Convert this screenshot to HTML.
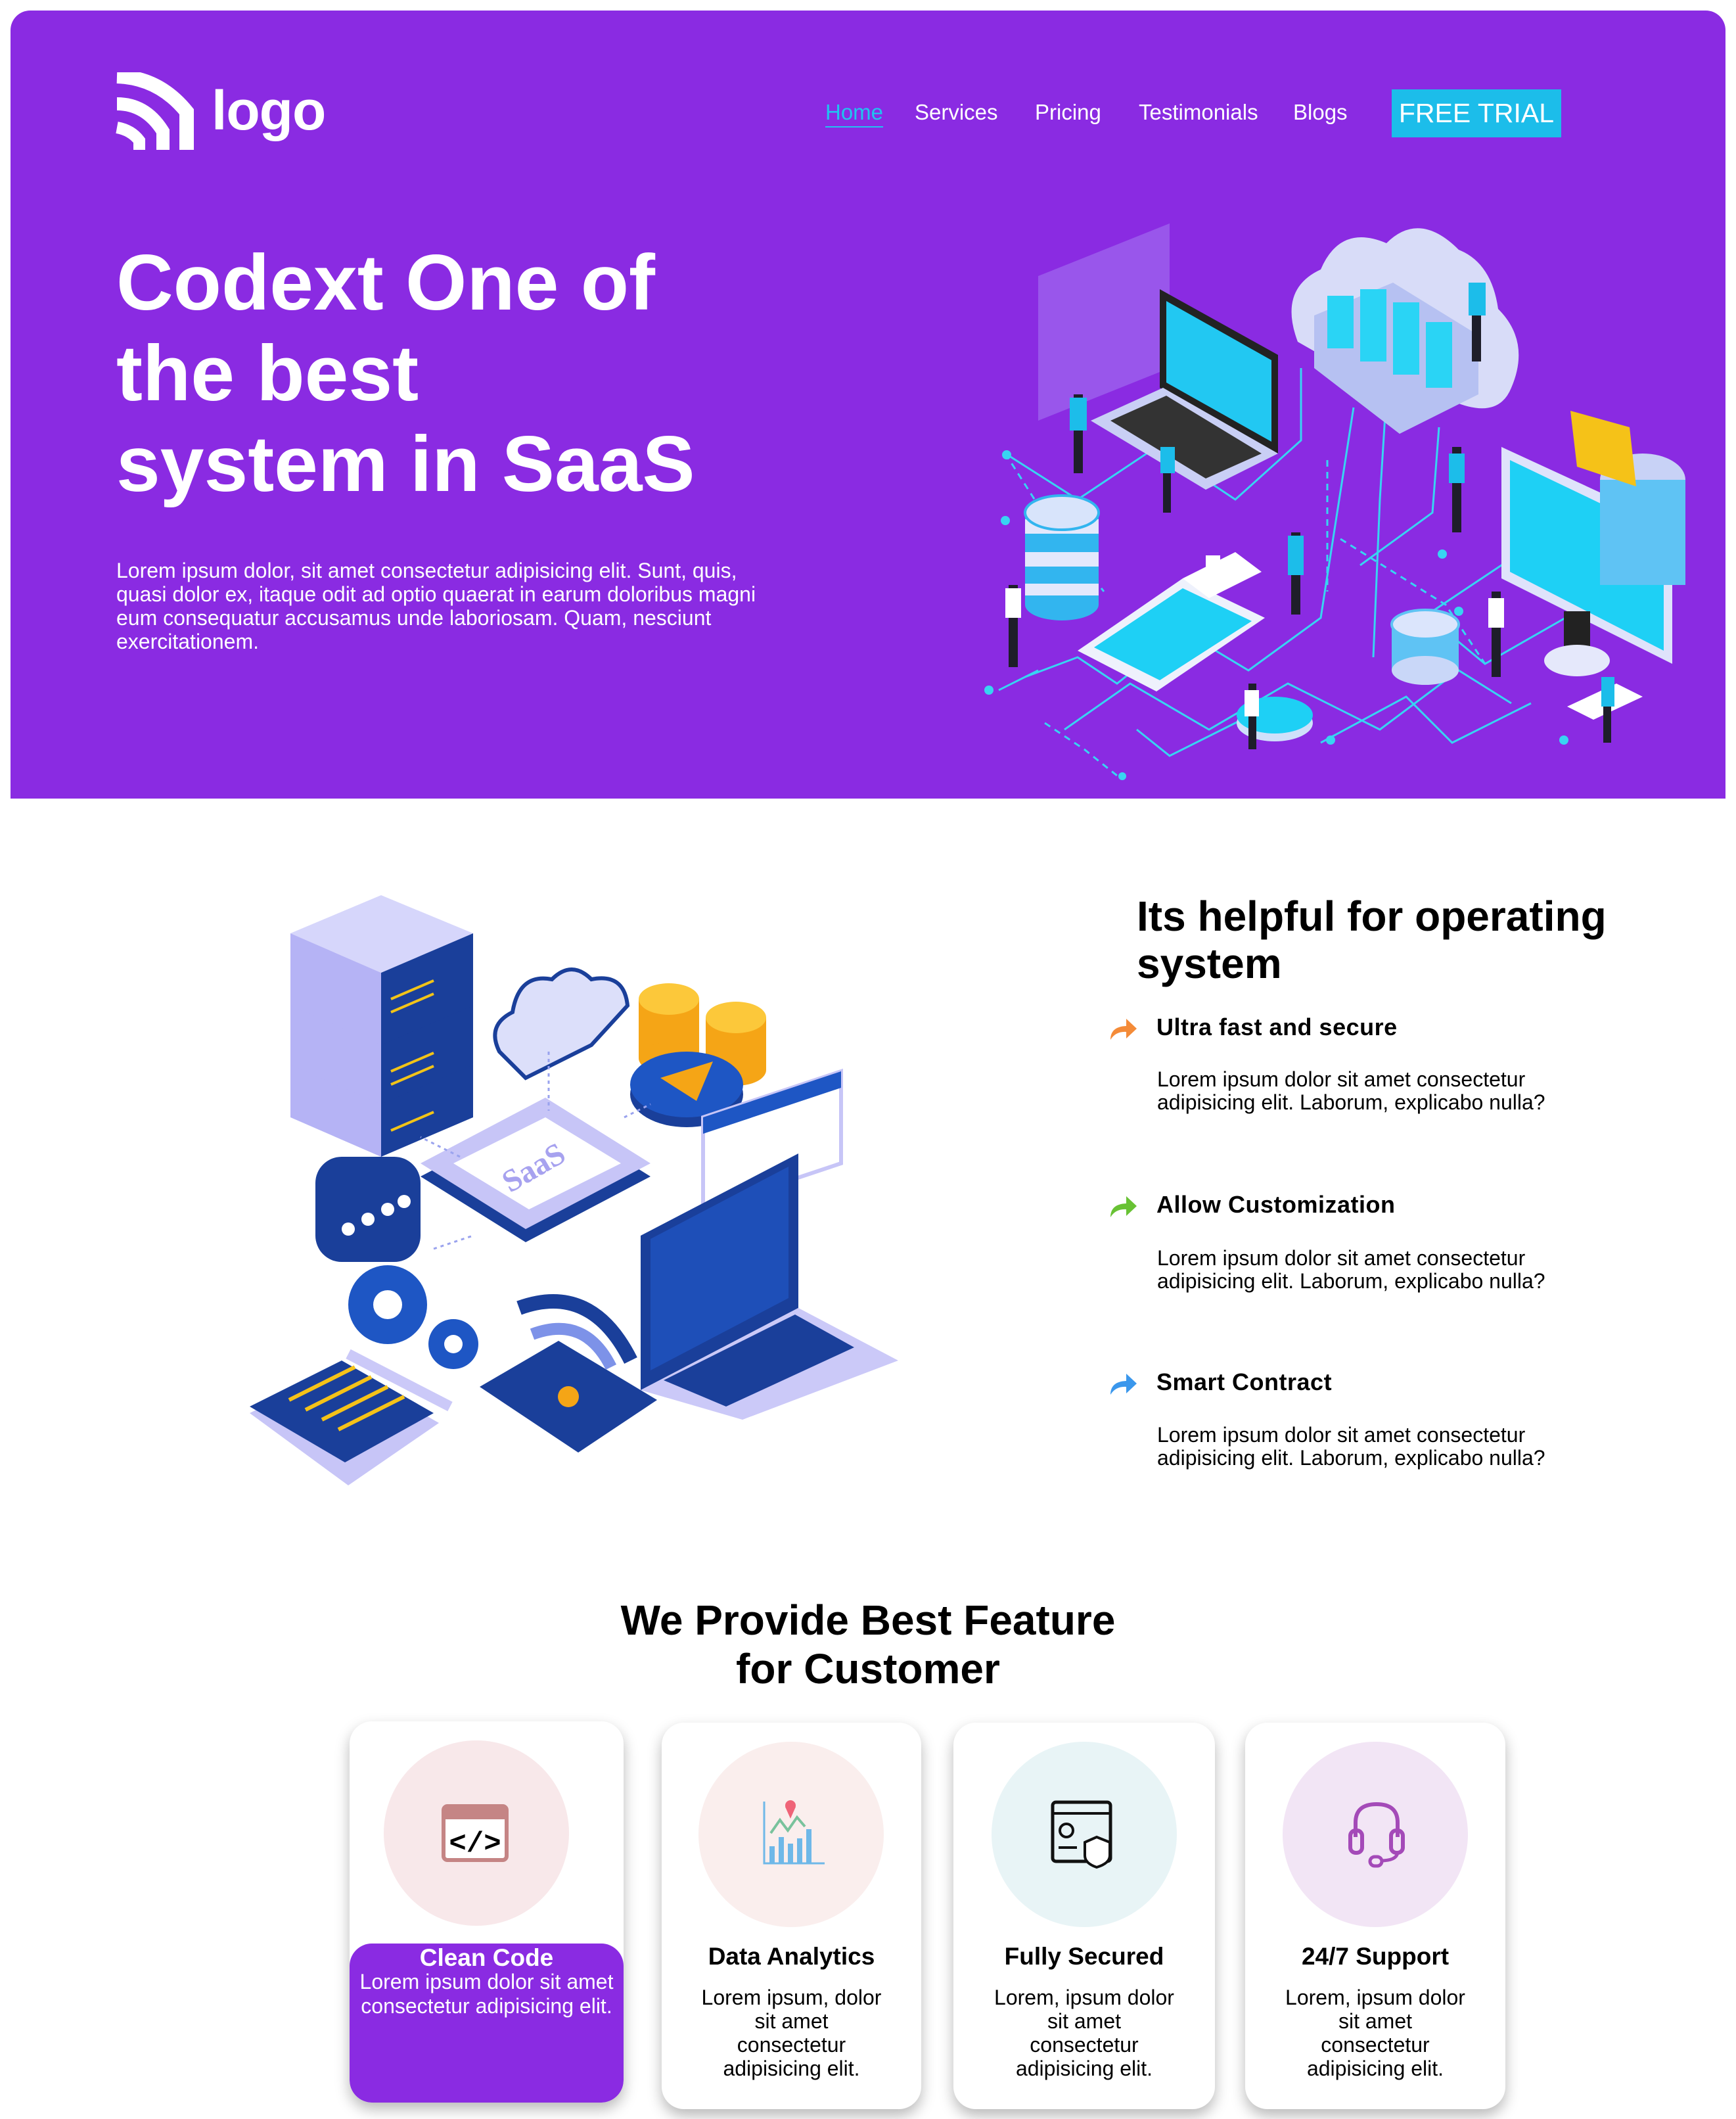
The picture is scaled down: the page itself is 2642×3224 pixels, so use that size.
<!DOCTYPE html>
<html><head><meta charset="utf-8">
<style>
*{margin:0;padding:0;box-sizing:border-box}
html,body{width:2642px;height:3224px;overflow:hidden;background:#fff;font-family:"Liberation Sans",Arial,sans-serif;position:relative}
.abs{position:absolute}
#hero{left:16px;top:16px;width:2610px;height:1199px;background:#8a2be2;border-radius:30px 30px 0 0}
.nav{top:150px;font-size:33px;color:#fff;line-height:42px}
.h1{left:177px;top:361px;font-size:120px;line-height:138px;font-weight:bold;color:#fff;white-space:nowrap}
.hp{left:177px;top:850px;width:990px;font-size:32px;line-height:36px;color:#fff}
.h2{left:1730px;top:1358px;font-size:64px;line-height:72px;font-weight:bold;color:#000}
.ft{left:1760px;font-size:36px;font-weight:bold;color:#000;line-height:40px;letter-spacing:0.5px}
.fd{left:1761px;font-size:32px;line-height:35px;color:#000;width:640px}
.h3{left:0;width:2642px;top:2428px;text-align:center;font-size:64px;line-height:74px;font-weight:bold;color:#000}
.card{background:#fff;border-radius:34px;box-shadow:0 10px 22px rgba(0,0,0,0.28);overflow:hidden}
.circ{position:absolute;width:282px;height:282px;border-radius:50%;top:29px}
.ct{position:absolute;left:0;width:100%;text-align:center;font-size:37px;font-weight:bold;top:2960px}
.cd{position:absolute;left:50%;transform:translateX(-50%);width:285px;text-align:center;font-size:32px;line-height:36px;color:#000}
</style></head><body>
<div id="hero" class="abs"></div>

<svg class="abs" style="left:172px;top:110px" width="130" height="125" viewBox="0 0 130 125">
<path d="M6 6 Q70 8 112 60 L112 118" fill="none" stroke="#fff" stroke-width="22"/>
<path d="M6 48 Q50 48 76 90 L76 118" fill="none" stroke="#fff" stroke-width="20"/>
<path d="M6 84 Q28 88 40 104 L40 118" fill="none" stroke="#fff" stroke-width="18"/>
</svg>
<div class="abs" style="left:322px;top:118px;font-size:84px;font-weight:bold;color:#fff;line-height:100px;letter-spacing:-1px">logo</div>

<div class="abs nav" style="left:1256px;color:#1fc4f0;border-bottom:2px solid #1fc4f0">Home</div>
<div class="abs nav" style="left:1392px">Services</div>
<div class="abs nav" style="left:1575px">Pricing</div>
<div class="abs nav" style="left:1733px">Testimonials</div>
<div class="abs nav" style="left:1968px">Blogs</div>
<div class="abs" style="left:2118px;top:136px;width:258px;height:73px;background:#1cbdea;color:#fff;font-size:41px;line-height:73px;text-align:center">FREE TRIAL</div>

<div class="abs h1">Codext One of<br>the best<br>system in SaaS</div>
<div class="abs hp">Lorem ipsum dolor, sit amet consectetur adipisicing elit. Sunt, quis, quasi dolor ex, itaque odit ad optio quaerat in earum doloribus magni eum consequatur accusamus unde laboriosam. Quam, nesciunt exercitationem.</div>

<svg class="abs" style="left:0;top:0" width="2642" height="1240" viewBox="0 0 2642 1240">
<g fill="none" stroke="#38d4f2" stroke-width="3">
<path d="M1530 690 L1640 760 L1760 680 L1880 760 L1980 670 L1980 560"/>
<path d="M1560 1030 L1640 1000 L1700 1040 L1800 960 L1900 1020 L2010 940 L2060 620"/>
<path d="M1620 1110 L1720 1040 L1840 1110 L1960 1040 L2100 1110 L2220 1020 L2300 1070"/>
<path d="M1730 1110 L1780 1150 L1900 1090"/>
<path d="M2010 1130 L2140 1060 L2210 1130 L2330 1070"/>
<path d="M2090 1000 L2100 760 L2110 600"/>
<path d="M2070 860 L2180 780 L2190 650"/>
<path d="M2180 930 L2300 850"/>
<path d="M2200 960 L2260 1010 L2400 930"/>
<path d="M1520 1050 L1580 1020"/>
</g>
<g fill="none" stroke="#38d4f2" stroke-width="3" stroke-dasharray="10 8">
<path d="M1530 690 L1600 800 L1680 900"/>
<path d="M1590 1100 L1650 1140 L1700 1180"/>
<path d="M2040 820 L2200 920 L2260 1010"/>
<path d="M2020 700 L2020 900"/>
</g>
<g fill="#38d4f2"><circle cx="1532" cy="692" r="7"/><circle cx="1530" cy="792" r="7"/><circle cx="1505" cy="1050" r="7"/><circle cx="2025" cy="1126" r="7"/><circle cx="2195" cy="843" r="7"/><circle cx="2220" cy="930" r="7"/><circle cx="2380" cy="1126" r="7"/><circle cx="1708" cy="1181" r="6"/></g>
<polygon points="1580,420 1780,340 1780,560 1580,640" fill="#a06af0" opacity="0.7"/>
<path d="M1975 520 Q1945 440 2010 410 Q2040 340 2110 370 Q2160 320 2220 380 Q2270 400 2280 470 Q2330 520 2300 590 Q2280 640 2210 610 L2010 540 Z" fill="#d8dcf8"/>
<path d="M2000 480 L2120 430 L2250 510 L2250 600 L2130 660 L2000 560 Z" fill="#b6c1f2"/>
<g fill="#2ad4f5"><rect x="2020" y="450" width="40" height="80"/><rect x="2070" y="440" width="40" height="110"/><rect x="2120" y="460" width="40" height="110"/><rect x="2170" y="490" width="40" height="100"/></g>
<polygon points="1765,440 1945,540 1945,690 1765,590" fill="#222"/>
<polygon points="1775,458 1935,548 1935,672 1775,582" fill="#22c8f2"/>
<polygon points="1660,640 1770,590 1945,690 1835,745" fill="#c9cff5"/>
<polygon points="1690,640 1775,602 1920,690 1835,728" fill="#333"/>
<polygon points="2285,680 2545,800 2545,1010 2285,880" fill="#dfe3fb"/>
<polygon points="2298,700 2532,812 2532,990 2298,870" fill="#1ed0f5"/>
<rect x="2380" y="930" width="40" height="70" fill="#222"/>
<ellipse cx="2400" cy="1005" rx="50" ry="24" fill="#e5e8fb"/>
<ellipse cx="2500" cy="730" rx="65" ry="40" fill="#c8d2f6"/>
<rect x="2435" y="730" width="130" height="160" fill="#5fc3f4"/>
<polygon points="2390,625 2480,650 2490,740 2400,710" fill="#f5c218"/>
<rect x="1560" y="780" width="112" height="140" fill="#32b5ef"/>
<ellipse cx="1616" cy="920" rx="56" ry="24" fill="#32b5ef"/>
<g fill="#e3e8fc"><rect x="1560" y="790" width="112" height="22"/><rect x="1560" y="840" width="112" height="22"/><rect x="1560" y="888" width="112" height="18"/></g>
<ellipse cx="1616" cy="780" rx="56" ry="26" fill="#d8e4fb" stroke="#32b5ef" stroke-width="4"/>
<polygon points="1640,990 1800,880 1925,940 1760,1052" fill="#eef1fc"/>
<polygon points="1665,985 1800,895 1905,945 1765,1035" fill="#1ed0f5"/>
<polygon points="1800,880 1880,840 1920,870 1840,910" fill="#fff"/>
<rect x="2118" y="950" width="102" height="70" fill="#5fc3f4"/>
<ellipse cx="2169" cy="1020" rx="51" ry="22" fill="#c9d7f8"/>
<ellipse cx="2169" cy="950" rx="51" ry="22" fill="#dbe5fc" stroke="#5fc3f4" stroke-width="4"/>
<ellipse cx="1940" cy="1100" rx="58" ry="28" fill="#cfe0fa"/>
<ellipse cx="1940" cy="1088" rx="58" ry="28" fill="#1ed0f5"/>
<polygon points="2385,1075 2460,1040 2500,1060 2425,1095" fill="#fff"/>
<g fill="#1e1e2a">
<rect x="1634" y="600" width="14" height="120"/><rect x="1535" y="890" width="14" height="125"/><rect x="1965" y="810" width="14" height="125"/><rect x="2210" y="680" width="14" height="130"/><rect x="2270" y="900" width="14" height="130"/><rect x="2240" y="430" width="14" height="120"/><rect x="1770" y="720" width="12" height="60"/><rect x="1900" y="1040" width="12" height="100"/><rect x="2440" y="1030" width="12" height="100"/>
</g>
<g fill="#1cbdea">
<rect x="1628" y="605" width="26" height="50"/><rect x="1960" y="815" width="24" height="60"/><rect x="2205" y="690" width="24" height="45"/><rect x="2235" y="430" width="26" height="50"/><rect x="1766" y="680" width="22" height="40"/><rect x="2437" y="1030" width="20" height="45"/>
</g>
<g fill="#fff"><rect x="1530" y="895" width="24" height="45"/><rect x="2265" y="910" width="24" height="45"/><rect x="1894" y="1050" width="22" height="40"/><rect x="1835" y="845" width="22" height="40"/></g>
</svg>

<svg class="abs" style="left:0;top:1300px" width="1500" height="1000" viewBox="0 1300 1500 1000">
<g>
<polygon points="442,1420 580,1362 720,1420 580,1480" fill="#d6d6fb"/>
<polygon points="442,1420 580,1480 580,1600 442,1540" fill="#b5b3f5"/>
<polygon points="580,1480 720,1420 720,1540 580,1600" fill="#1a3f9a"/>
<polygon points="442,1530 580,1590 580,1690 442,1630" fill="#b5b3f5"/>
<polygon points="580,1590 720,1530 720,1630 580,1690" fill="#1a3f9a"/>
<polygon points="442,1620 580,1680 580,1760 442,1700" fill="#b5b3f5"/>
<polygon points="580,1680 720,1620 720,1700 580,1760" fill="#1a3f9a"/>
<g stroke="#f2c418" stroke-width="4"><path d="M595 1520 L660 1492 M595 1540 L660 1512 M595 1630 L660 1602 M595 1650 L660 1622 M595 1720 L660 1692"/></g>
</g>
<path d="M760 1600 Q740 1560 780 1540 Q790 1480 840 1490 Q870 1460 900 1490 Q950 1480 955 1530 L900 1590 L800 1640 Z" fill="#dcdffa" stroke="#1a3f9a" stroke-width="6"/>
<rect x="972" y="1520" width="92" height="90" fill="#f5a516"/><ellipse cx="1018" cy="1520" rx="46" ry="24" fill="#fcc83a"/><ellipse cx="1018" cy="1610" rx="46" ry="24" fill="#f5a516"/>
<rect x="1074" y="1548" width="92" height="80" fill="#f5a516"/><ellipse cx="1120" cy="1548" rx="46" ry="24" fill="#fcc83a"/><ellipse cx="1120" cy="1628" rx="46" ry="24" fill="#f5a516"/>
<ellipse cx="1045" cy="1665" rx="86" ry="50" fill="#1a3f9a"/><ellipse cx="1045" cy="1650" rx="86" ry="50" fill="#1e56c4"/>
<polygon points="1005,1640 1085,1615 1060,1675" fill="#f5a516"/>
<polygon points="640,1790 830,1690 990,1790 800,1890" fill="#1a3f9a"/>
<polygon points="640,1770 830,1670 990,1770 800,1870" fill="#c7c5f7"/>
<polygon points="690,1770 830,1700 945,1770 805,1840" fill="#fff"/>
<text x="820" y="1790" font-family="Liberation Serif,serif" font-size="48" font-weight="bold" fill="#a7a2ef" transform="rotate(-30 820 1790)" text-anchor="middle">SaaS</text>
<polygon points="1070,1700 1280,1630 1280,1770 1070,1840" fill="#fff" stroke="#c7c5f7" stroke-width="6"/>
<polygon points="1070,1700 1280,1630 1280,1655 1070,1725" fill="#1e56c4"/>
<polygon points="975,1880 1215,1755 1215,1990 975,2115" fill="#1a3f9a"/>
<polygon points="990,1885 1200,1775 1200,1975 990,2085" fill="#1e4fb8"/>
<polygon points="975,2115 1215,1990 1367,2070 1130,2160" fill="#cbc9f8"/>
<polygon points="1010,2100 1210,2000 1300,2050 1105,2140" fill="#1a3f9a"/>
<rect x="480" y="1760" width="160" height="160" rx="40" fill="#1a3f9a"/>
<g fill="#fff"><circle cx="530" cy="1870" r="10"/><circle cx="560" cy="1855" r="10"/><circle cx="590" cy="1840" r="10"/><circle cx="615" cy="1828" r="10"/></g>
<circle cx="590" cy="1985" r="60" fill="#1e56c4"/><circle cx="590" cy="1985" r="22" fill="#fff"/>
<circle cx="690" cy="2045" r="38" fill="#1e56c4"/><circle cx="690" cy="2045" r="14" fill="#fff"/>
<polygon points="380,2150 520,2080 668,2165 530,2260" fill="#c7c5f7"/>
<polygon points="380,2140 520,2070 660,2150 525,2225" fill="#1a3f9a"/>
<g stroke="#f5c218" stroke-width="6"><path d="M440 2130 L540 2080 M465 2145 L565 2095 M490 2160 L590 2110 M515 2175 L615 2125"/></g>
<line x1="530" y1="2060" x2="685" y2="2140" stroke="#cbc9f8" stroke-width="16"/>
<polygon points="730,2110 850,2040 1000,2130 880,2210" fill="#1a3f9a"/>
<path d="M790 1990 Q900 1950 960 2070" fill="none" stroke="#1a3f9a" stroke-width="22"/>
<path d="M810 2030 Q890 2000 930 2080" fill="none" stroke="#7d92e8" stroke-width="18"/>
<circle cx="865" cy="2125" r="16" fill="#f5a516"/>
<g stroke="#9aa3ee" stroke-width="3" stroke-dasharray="5 6"><path d="M835 1600 L835 1690 M700 1760 L640 1730 M950 1700 L990 1680 M660 1900 L720 1880"/></g>
</svg>

<div class="abs h2">Its helpful for operating<br>system</div>

<svg class="abs" style="left:1688px;top:1548px" width="44" height="36" viewBox="0 0 44 36"><path d="M2 34 Q2 14 26 13 L26 2 L42 17 L26 32 L26 22 Q10 21 2 34Z" fill="#f48b38"/></svg>
<div class="abs ft" style="top:1543px">Ultra fast and secure</div>
<div class="abs fd" style="top:1625px">Lorem ipsum dolor sit amet consectetur adipisicing elit. Laborum, explicabo nulla?</div>

<svg class="abs" style="left:1688px;top:1818px" width="44" height="36" viewBox="0 0 44 36"><path d="M2 34 Q2 14 26 13 L26 2 L42 17 L26 32 L26 22 Q10 21 2 34Z" fill="#68c234"/></svg>
<div class="abs ft" style="top:1813px">Allow Customization</div>
<div class="abs fd" style="top:1897px">Lorem ipsum dolor sit amet consectetur adipisicing elit. Laborum, explicabo nulla?</div>

<svg class="abs" style="left:1688px;top:2088px" width="44" height="36" viewBox="0 0 44 36"><path d="M2 34 Q2 14 26 13 L26 2 L42 17 L26 32 L26 22 Q10 21 2 34Z" fill="#3a97ec"/></svg>
<div class="abs ft" style="top:2083px">Smart Contract</div>
<div class="abs fd" style="top:2166px">Lorem ipsum dolor sit amet consectetur adipisicing elit. Laborum, explicabo nulla?</div>

<div class="abs h3">We Provide Best Feature<br>for Customer</div>

<div class="abs card" style="left:532px;top:2619px;width:417px;height:580px">
  <div class="circ" style="left:52px;background:#f8e8ea"></div>
  <div class="abs" style="left:0;top:338px;width:417px;height:242px;background:#8a2be2;border-radius:34px"></div>
  <div class="abs" style="left:0;top:338px;width:417px;text-align:center;font-size:37px;font-weight:bold;color:#fff;line-height:44px">Clean Code</div>
  <div class="abs" style="left:0;top:378px;width:417px;text-align:center;font-size:32px;line-height:37px;color:#fff">Lorem ipsum dolor sit amet consectetur adipisicing elit.</div>
  <svg class="abs" style="left:140px;top:126px" width="102" height="88" viewBox="0 0 102 88"><rect x="3" y="3" width="96" height="82" rx="6" fill="#fff" stroke="#c58585" stroke-width="6"/><rect x="3" y="3" width="96" height="20" fill="#c58585"/><text x="51" y="72" font-family="Liberation Mono,monospace" font-size="44" font-weight="bold" text-anchor="middle" fill="#000">&lt;/&gt;</text></svg>
</div>
<div class="abs card" style="left:1007px;top:2621px;width:395px;height:588px">
  <div class="circ" style="left:56px;background:#faeeed"></div>
  <svg class="abs" style="left:150px;top:118px" width="100" height="100" viewBox="0 0 100 100"><path d="M6 2 L6 96 L98 96" fill="none" stroke="#6fb8e8" stroke-width="3"/><g fill="#6fb8e8"><rect x="14" y="70" width="8" height="26"/><rect x="28" y="56" width="8" height="40"/><rect x="42" y="66" width="8" height="30"/><rect x="56" y="58" width="8" height="38"/><rect x="70" y="44" width="8" height="52"/></g><path d="M16 50 L30 30 L42 46 L56 26 L68 40" fill="none" stroke="#79c29c" stroke-width="4"/><circle cx="46" cy="8" r="8" fill="#ef6478"/><path d="M38 10 L46 28 L54 10Z" fill="#ef6478"/></svg>
  <div class="ct" style="top:335px">Data Analytics</div>
  <div class="cd" style="top:400px">Lorem ipsum, dolor sit amet consectetur adipisicing elit.</div>
</div>
<div class="abs card" style="left:1451px;top:2621px;width:398px;height:588px">
  <div class="circ" style="left:58px;background:#e8f4f6"></div>
  <svg class="abs" style="left:148px;top:118px" width="100" height="104" viewBox="0 0 100 104"><rect x="3" y="3" width="88" height="90" rx="5" fill="none" stroke="#111" stroke-width="5"/><line x1="3" y1="20" x2="91" y2="20" stroke="#111" stroke-width="4"/><circle cx="24" cy="46" r="10" fill="none" stroke="#111" stroke-width="4"/><path d="M12 72 L40 72" stroke="#111" stroke-width="4"/><path d="M70 56 L90 64 L90 84 Q90 96 70 102 Q52 96 52 84 L52 64Z" fill="#fff" stroke="#111" stroke-width="4"/></svg>
  <div class="ct" style="top:335px">Fully Secured</div>
  <div class="cd" style="top:400px">Lorem, ipsum dolor sit amet consectetur adipisicing elit.</div>
</div>
<div class="abs card" style="left:1895px;top:2621px;width:396px;height:588px">
  <div class="circ" style="left:57px;background:#f2e5f5"></div>
  <svg class="abs" style="left:150px;top:118px" width="100" height="104" viewBox="0 0 100 104"><path d="M18 56 L18 34 Q18 6 50 6 Q82 6 82 34 L82 56" fill="none" stroke="#a44ab8" stroke-width="6"/><rect x="10" y="46" width="18" height="34" rx="8" fill="none" stroke="#a44ab8" stroke-width="6"/><rect x="72" y="46" width="18" height="34" rx="8" fill="none" stroke="#a44ab8" stroke-width="6"/><path d="M82 80 Q80 92 56 92" fill="none" stroke="#a44ab8" stroke-width="5"/><rect x="40" y="86" width="18" height="14" rx="7" fill="none" stroke="#a44ab8" stroke-width="5"/></svg>
  <div class="ct" style="top:335px">24/7 Support</div>
  <div class="cd" style="top:400px">Lorem, ipsum dolor sit amet consectetur adipisicing elit.</div>
</div>
</body></html>
